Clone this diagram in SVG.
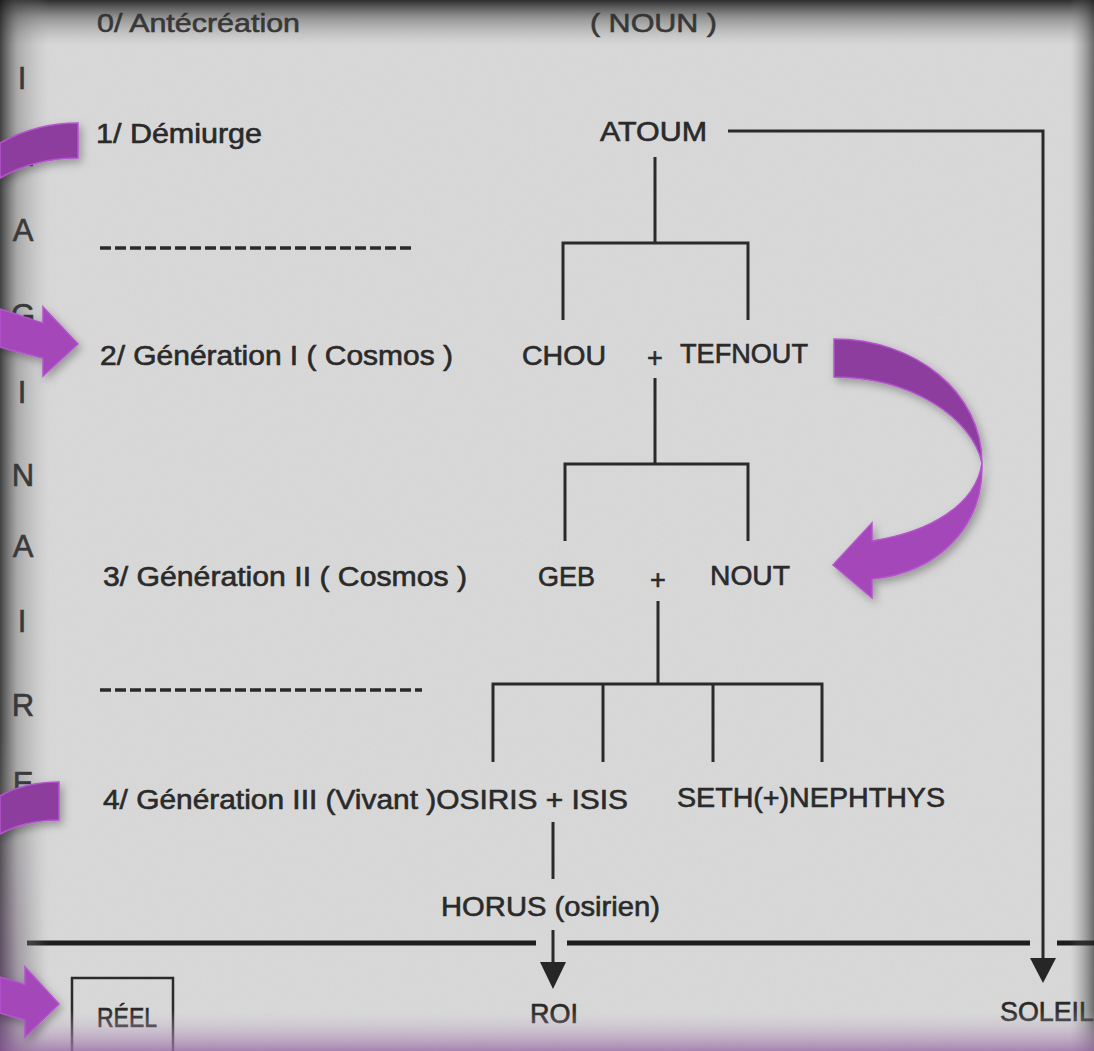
<svg xmlns="http://www.w3.org/2000/svg" width="1094" height="1051" viewBox="0 0 1094 1051">
<defs>
<style>
.t{font-family:"Liberation Sans",Arial,sans-serif;fill:#2a2a2a;stroke:#2a2a2a;stroke-width:0.6;font-size:27px}
.s{font-size:26px}
.v{font-family:"Liberation Sans",Arial,sans-serif;fill:#2a2a2a;stroke:#2a2a2a;stroke-width:0.6;font-size:31px;text-anchor:middle}
.ln{fill:none;stroke:#2a2a2a;stroke-width:3}
.dash{fill:none;stroke:#2a2a2a;stroke-width:3.5;stroke-dasharray:11 4}
.thick{fill:none;stroke:#1e1e1e;stroke-width:5}
.head{fill:#262626}
.pd{fill:#8d3e9e;stroke:#b553cf;stroke-width:1.5}
.pl{fill:#a447b8;stroke:#b553cf;stroke-width:1.5}
</style>
<filter id="noise" x="0" y="0" width="100%" height="100%">
<feTurbulence type="fractalNoise" baseFrequency="0.9" numOctaves="2" seed="3"/>
<feColorMatrix type="matrix" values="0 0 0 0 0.5  0 0 0 0 0.5  0 0 0 0 0.5  0 0 0 0.55 -0.1"/>
</filter>
<filter id="sh" x="-20%" y="-20%" width="140%" height="140%">
<feDropShadow dx="3" dy="4" stdDeviation="4" flood-color="#000" flood-opacity="0.3"/>
</filter>
<linearGradient id="gTop" x1="0" y1="0" x2="0" y2="1">
<stop offset="0" stop-color="#1a1a1a" stop-opacity="0.9"/>
<stop offset="0.4" stop-color="#444" stop-opacity="0.45"/>
<stop offset="1" stop-color="#888" stop-opacity="0"/>
</linearGradient>
<linearGradient id="gLeft" x1="0" y1="0" x2="1" y2="0">
<stop offset="0" stop-color="#1a1a1a" stop-opacity="0.8"/>
<stop offset="0.35" stop-color="#555" stop-opacity="0.35"/>
<stop offset="1" stop-color="#999" stop-opacity="0"/>
</linearGradient>
<linearGradient id="gRight" x1="1" y1="0" x2="0" y2="0">
<stop offset="0" stop-color="#222" stop-opacity="0.6"/>
<stop offset="1" stop-color="#888" stop-opacity="0"/>
</linearGradient>
<linearGradient id="gBot" x1="0" y1="1" x2="0" y2="0">
<stop offset="0" stop-color="#9b6fa8" stop-opacity="0.8"/>
<stop offset="0.5" stop-color="#b59bbd" stop-opacity="0.4"/>
<stop offset="1" stop-color="#cccccc" stop-opacity="0"/>
</linearGradient>
<radialGradient id="gCorner" cx="0" cy="1051" r="320" gradientUnits="userSpaceOnUse" gradientTransform="translate(0,1051) scale(0.15,1) translate(0,-1051)">
<stop offset="0" stop-color="#7a4a8a" stop-opacity="0.6"/>
<stop offset="1" stop-color="#aaaaaa" stop-opacity="0"/>
</radialGradient>
</defs>

<g id="paper">
<rect width="1094" height="1051" fill="#d9d9d9"/>
<rect width="1094" height="1051" filter="url(#noise)" opacity="0.35"/>
</g>

<g id="side-letters">
<text class="v" x="22" y="89">I</text>
<text class="v" x="22" y="166">M</text>
<text class="v" x="23" y="241">A</text>
<text class="v" x="23" y="326">G</text>
<text class="v" x="22" y="403">I</text>
<text class="v" x="23" y="486">N</text>
<text class="v" x="23" y="557">A</text>
<text class="v" x="22" y="632">I</text>
<text class="v" x="23" y="716">R</text>
<text class="v" x="23" y="794">E</text>
</g>

<g id="levels">
<text class="t s" x="97" y="32" textLength="203" lengthAdjust="spacingAndGlyphs">0/  Antécréation</text>
<text class="t" x="96" y="143" textLength="166" lengthAdjust="spacingAndGlyphs">1/  Démiurge</text>
<text class="t" x="100" y="365" textLength="353" lengthAdjust="spacingAndGlyphs">2/  Génération I  ( Cosmos )</text>
<text class="t" x="103" y="586" textLength="364" lengthAdjust="spacingAndGlyphs">3/  Génération II  ( Cosmos )</text>
<line class="dash" x1="100" y1="248" x2="415" y2="248"/>
<line class="dash" x1="100" y1="690" x2="422" y2="690"/>
</g>

<g id="connectors">
<path class="ln" d="M728,131 H1043 V962"/>
<polygon class="head" points="1030,958 1056,958 1043,983"/>
<path class="ln" d="M655,157 V243"/>
<path class="ln" d="M563,320 V243 H748 V320"/>
<path class="ln" d="M655,378 V464"/>
<path class="ln" d="M565,541 V464 H748 V541"/>
<path class="ln" d="M658,601 V684"/>
<path class="ln" d="M493,762 V684 H822 V762"/>
<path class="ln" d="M603,684 V762"/>
<path class="ln" d="M713,684 V762"/>
<path class="ln" d="M553,822 V879"/>
<path class="ln" d="M553,930 V965"/>
<polygon class="head" points="540,962 566,962 553,989"/>
<path class="thick" d="M27,943 H536 M567,943 H1030 M1057,943 H1094"/>
</g>

<g id="node-noun"><text class="t s" x="590" y="32" textLength="127" lengthAdjust="spacingAndGlyphs">( NOUN )</text></g>
<g id="node-atoum"><text class="t" x="600" y="141" textLength="107" lengthAdjust="spacingAndGlyphs">ATOUM</text></g>
<g id="node-chou-tefnout">
<text class="t" x="522" y="365" textLength="84" lengthAdjust="spacingAndGlyphs">CHOU</text>
<text class="t" x="655" y="367" text-anchor="middle" font-size="32">+</text>
<text class="t" x="680" y="363" textLength="128" lengthAdjust="spacingAndGlyphs">TEFNOUT</text>
</g>
<g id="node-geb-nout">
<text class="t" x="538" y="586" textLength="57" lengthAdjust="spacingAndGlyphs">GEB</text>
<text class="t" x="658" y="589" text-anchor="middle" font-size="32">+</text>
<text class="t" x="710" y="585" textLength="80" lengthAdjust="spacingAndGlyphs">NOUT</text>
</g>
<g id="node-gen3">
<text class="t" x="103" y="809" textLength="525" lengthAdjust="spacingAndGlyphs">4/  Génération III  (Vivant )OSIRIS + ISIS</text>
<text class="t" x="677" y="807" textLength="268" lengthAdjust="spacingAndGlyphs">SETH(+)NEPHTHYS</text>
</g>
<g id="node-horus"><text class="t" x="441" y="916" textLength="219" lengthAdjust="spacingAndGlyphs">HORUS (osirien)</text></g>
<g id="node-roi"><text class="t" x="530" y="1023" textLength="48" lengthAdjust="spacingAndGlyphs">ROI</text></g>
<g id="node-soleil"><text class="t" x="1000" y="1021" textLength="94" lengthAdjust="spacingAndGlyphs">SOLEIL</text></g>
<g id="node-reel">
<path fill="none" stroke="#2a2a2a" stroke-width="2.5" d="M72,1051 V978 H173 V1051"/>
<text class="t" x="97" y="1027" textLength="60" lengthAdjust="spacingAndGlyphs">RÉEL</text>
</g>

<g id="vignette">
<rect x="0" y="0" width="1094" height="45" fill="url(#gTop)"/>
<rect x="0" y="0" width="50" height="1051" fill="url(#gLeft)"/>
<rect x="1070" y="0" width="24" height="1051" fill="url(#gRight)"/>
<rect x="0" y="1010" width="1094" height="41" fill="url(#gBot)"/>
<rect x="0" y="700" width="60" height="351" fill="url(#gCorner)"/>
</g>

<g id="purple-arrows" filter="url(#sh)">
<path class="pd" d="M78,123 L78,158 C50,158 22,165 0,178 L0,143 C22,131 50,123 78,123 Z"/>
<path class="pl" d="M0,309 C16,314 30,319 43,323 L43,307 L78,344 L43,376 L43,358 C30,355 15,351 0,347 Z"/>
<path class="pd" d="M834,339 C915,339 982,392 982,463 C972,418 912,377 834,377 Z"/>
<path class="pl" d="M982,463 C984,525 940,572 872,579 L872,598 L833,565 L872,523 L872,541 C930,532 976,505 982,463 Z"/>
<path class="pd" d="M59,782 L59,820 C36,820 16,825 0,834 L0,796 C16,787 36,782 59,782 Z"/>
<path class="pl" d="M0,977 C10,980 18,982 25,985 L25,967 L59,1004 L25,1037 L25,1020 C18,1018 10,1016 0,1013 Z"/>
</g>
</svg>
